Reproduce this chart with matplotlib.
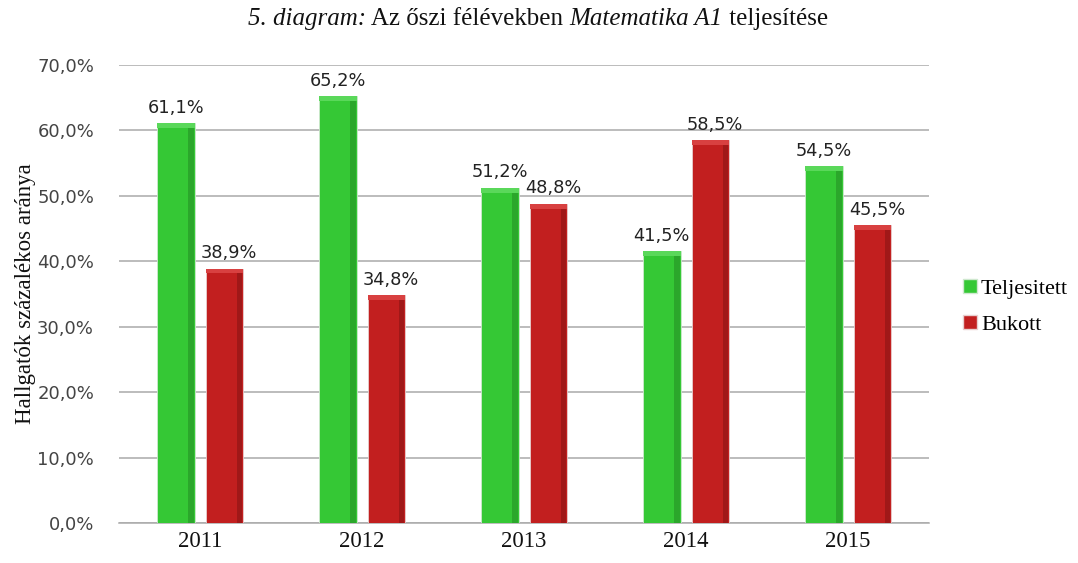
import matplotlib
matplotlib.use("Agg")
import matplotlib.pyplot as plt
import numpy as np

years = ["2011", "2012", "2013", "2014", "2015"]
teljesitett = [61.1, 65.2, 51.2, 41.5, 54.5]
bukott = [38.9, 34.8, 48.8, 58.5, 45.5]
series_names = ["Teljesitett", "Bukott"]
yticks = [0, 10, 20, 30, 40, 50, 60, 70]

green = "#35c835"
green_dark = "#2ba72b"
green_light = "#5ad85a"
red = "#c21f1f"
red_dark = "#a01818"
red_light = "#d84040"

fig = plt.figure(figsize=(10.78, 5.63), dpi=100)
ax = fig.add_axes([0.1104, 0.0710, 0.7514, 0.8135])

x = np.arange(len(years))
w = 0.232
off = 0.15

def draw_bars(xpos, vals, c, cd, cl, label):
    ax.bar(xpos, vals, width=w, color=c, edgecolor="#cfe8cf" if c == green else "#e8cfcf",
           linewidth=0.6, label=label, zorder=3)
    ax.bar(xpos + w / 2 - w * 0.09, vals, width=w * 0.14, color=cd, linewidth=0, zorder=4)
    cap = 0.75
    ax.bar(xpos, [cap] * len(vals), bottom=np.array(vals) - cap, width=w, color=cl,
           linewidth=0, zorder=5)

draw_bars(x - off, teljesitett, green, green_dark, green_light, series_names[0])
draw_bars(x + off, bukott, red, red_dark, red_light, series_names[1])

lblsize = 12.8
for xi, v in zip(x - off, teljesitett):
    ax.text(xi, v + 1.0, f"{v:.1f}%".replace(".", ","), ha="center", va="bottom",
            fontsize=lblsize, family="DejaVu Sans", color="#222222", zorder=6)
for xi, v in zip(x + off, bukott):
    ax.text(xi + 0.03, v + 1.0, f"{v:.1f}%".replace(".", ","), ha="center", va="bottom",
            fontsize=lblsize, family="DejaVu Sans", color="#222222", zorder=6)

ax.set_xlim(-0.5, 4.5)
ax.set_ylim(0, 70)
ax.set_yticks(yticks)
ax.set_yticklabels([f"{t:.1f}%".replace(".", ",") for t in yticks], family="DejaVu Sans",
                   fontsize=13, color="#444444")
ax.set_xticks(x)
ax.set_xticklabels(years, family="Liberation Serif", fontsize=16.5, color="#111111")
ax.tick_params(axis="y", length=0, pad=18)
ax.tick_params(axis="x", length=0, pad=6)
ax.grid(axis="y", color="#aaaaaa", linewidth=1.1, zorder=0)
for s in ["top", "right", "left"]:
    ax.spines[s].set_visible(False)
ax.spines["bottom"].set_color("#aaaaaa")
ax.spines["bottom"].set_linewidth(1.1)

ax.set_ylabel("Hallgatók százalékos aránya", family="Liberation Serif", fontsize=16.5,
              color="#111111", labelpad=1)

from matplotlib.patches import Patch
handles = [Patch(facecolor=green, edgecolor="#cfe8cf"), Patch(facecolor=red, edgecolor="#e8cfcf")]
leg = fig.legend(handles, series_names, loc="center left", bbox_to_anchor=(0.875, 0.455),
                 frameon=False, prop={"family": "Liberation Serif", "size": 16},
                 handlelength=0.6, handleheight=0.6, handletextpad=0.2, labelspacing=0.75)

pieces = [("5. diagram:", "italic"), (" Az őszi félévekben ", "normal"),
          ("Matematika A1", "italic"), (" teljesítése", "normal")]
fig.canvas.draw()
r = fig.canvas.get_renderer()
texts = []
for s, st in pieces:
    t = fig.text(0, 0.966, s, family="Liberation Serif", style=st, fontsize=18,
                 color="#111111", va="center", ha="left")
    texts.append(t)
widths = [t.get_window_extent(r).width for t in texts]
total = sum(widths)
cx = 538
start = cx - total / 2
for t, wd in zip(texts, widths):
    t.set_x(start / fig.bbox.width)
    start += wd

fig.savefig("out.png", dpi=100)
